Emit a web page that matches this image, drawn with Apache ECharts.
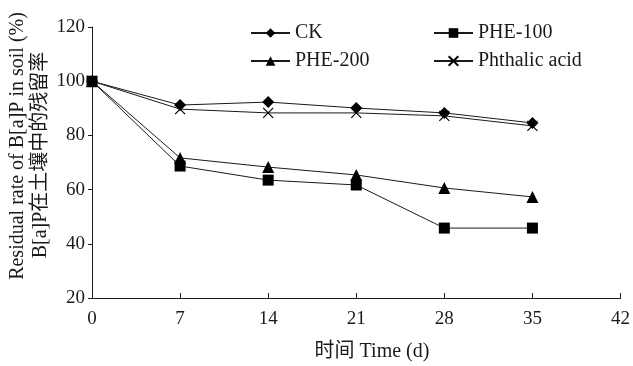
<!DOCTYPE html>
<html>
<head>
<meta charset="utf-8">
<script src="https://cdn.jsdelivr.net/npm/echarts@6/dist/echarts.min.js"></script>
<style>
  html, body { margin: 0; padding: 0; background: #fff; }
  #chart { width: 633px; height: 366px; }
</style>
</head>
<body>
<div id="chart"></div>
<script>
// 数据
var days = [0, 7, 14, 21, 28, 35]
var ckData = [100, 91.2, 92.3, 90.1, 88.3, 84.6]
var phe100Data = [100, 68.7, 63.5, 61.7, 45.8, 45.8]
var phe200Data = [100, 71.7, 68.3, 65.4, 60.6, 57.3]
var phthalicData = [100, 89.7, 88.3, 88.3, 87.2, 83.5]
var xTicks = [0, 7, 14, 21, 28, 35, 42]
var yTicks = [20, 40, 60, 80, 100, 120]

var font = '"Liberation Serif", "Times New Roman", "Noto Sans CJK SC", serif'
var ink = '#1a1a1a'

function pairs(vals) {
  return days.map(function (d, i) { return [d, vals[i]] })
}

var myChart = echarts.init(document.getElementById('chart'))

var crossPath = 'path://M0,0L10,10M10,0L0,10'

var legendBase = {
  orient: 'vertical',
  top: 18,
  itemWidth: 39,
  itemHeight: 12,
  itemGap: 8,
  textStyle: { fontFamily: font, fontSize: 20, color: ink }
}

var option = {
  animation: false,
  textStyle: { fontFamily: font, color: ink },
  grid: { left: 92, right: 12, top: 27, bottom: 68, containLabel: false },
  legend: [
    Object.assign({ data: ['CK', 'PHE-200'], left: 245 }, legendBase),
    Object.assign({ data: ['PHE-100', 'Phthalic acid'], left: 428 }, legendBase)
  ],
  xAxis: {
    type: 'value',
    min: 0,
    max: 42,
    interval: 7,
    axisLine: { lineStyle: { color: ink, width: 1 } },
    axisTick: { inside: true, length: 5, lineStyle: { color: ink } },
    axisLabel: {
      fontFamily: font, fontSize: 19, color: ink, margin: 12,
      formatter: function (v) { return xTicks.indexOf(v) >= 0 ? String(v) : '' }
    },
    splitLine: { show: false }
  },
  yAxis: {
    type: 'value',
    min: 20,
    max: 120,
    interval: 20,
    axisLine: { show: true, lineStyle: { color: ink, width: 1 } },
    axisTick: { show: true, length: 4, lineStyle: { color: ink } },
    axisLabel: {
      fontFamily: font, fontSize: 19, color: ink, margin: 7,
      formatter: function (v) { return yTicks.indexOf(v) >= 0 ? String(v) : '' }
    },
    splitLine: { show: false }
  },
  graphic: [
    {
      type: 'text',
      x: 18,
      y: 146,
      rotation: Math.PI / 2,
      style: {
        text: 'Residual rate of B[a]P in soil (%)',
        font: '20px ' + font,
        fill: ink,
        align: 'center',
        verticalAlign: 'middle'
      }
    },
    {
      type: 'text',
      x: 41,
      y: 155,
      rotation: Math.PI / 2,
      style: {
        text: 'B[a]P在土壤中的残留率',
        font: '20px ' + font,
        fill: ink,
        align: 'center',
        verticalAlign: 'middle'
      }
    },
    {
      type: 'text',
      x: 372,
      y: 352,
      style: {
        text: '时间 Time (d)',
        font: '20px ' + font,
        fill: ink,
        align: 'center',
        verticalAlign: 'middle'
      }
    }
  ],
  series: [
    {
      name: 'CK',
      type: 'line',
      data: pairs(ckData),
      symbol: 'diamond',
      symbolSize: 12,
      lineStyle: { color: ink, width: 1 },
      itemStyle: { color: '#000' }
    },
    {
      name: 'PHE-100',
      type: 'line',
      data: pairs(phe100Data),
      symbol: 'rect',
      symbolSize: 11,
      lineStyle: { color: ink, width: 1 },
      itemStyle: { color: '#000' }
    },
    {
      name: 'PHE-200',
      type: 'line',
      data: pairs(phe200Data),
      symbol: 'triangle',
      symbolSize: 12,
      lineStyle: { color: ink, width: 1 },
      itemStyle: { color: '#000' }
    },
    {
      name: 'Phthalic acid',
      type: 'line',
      data: pairs(phthalicData),
      symbol: crossPath,
      symbolSize: 10,
      lineStyle: { color: ink, width: 1 },
      itemStyle: { color: 'rgba(0,0,0,0)', borderColor: '#000', borderWidth: 1.2 }
    }
  ]
}

myChart.setOption(option)
window.onresize = function () {
  myChart.resize()
}
</script>
</body>
</html>
